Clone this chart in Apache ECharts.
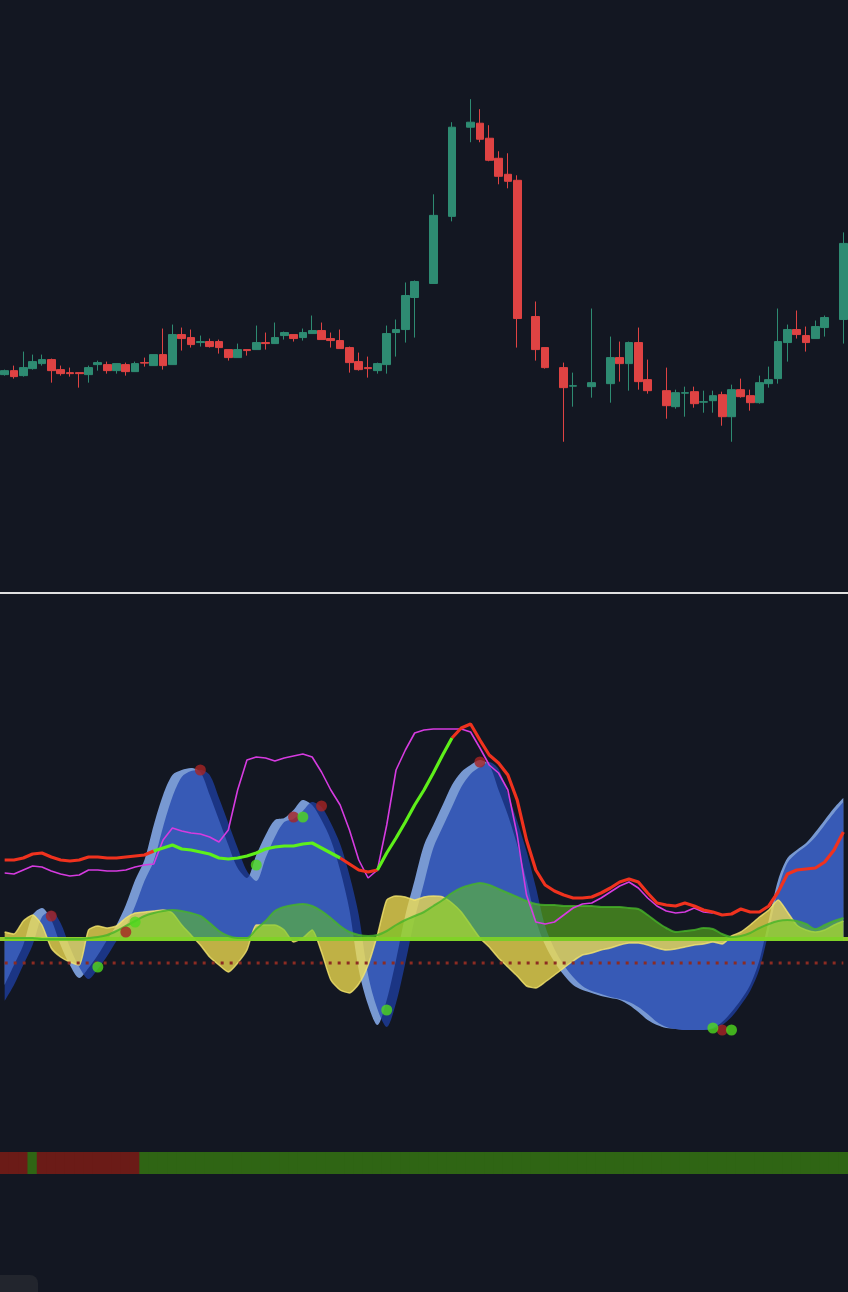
<!DOCTYPE html>
<html><head><meta charset="utf-8">
<script src="https://cdn.jsdelivr.net/npm/echarts@6/dist/echarts.min.js"></script>
<style>html,body{margin:0;padding:0;background:#131722}#c{width:848px;height:1292px}</style>
</head><body><div id="c"></div>
<script>
const N = 91;
const slots = Array.from({length:N},(_,i)=>String(i));
// candles per slot: [open, close, low, high], null = no candle
const opens  = [22.6,23.0,22.5,23.2,23.7,24.1,23.1,22.8,22.8,22.6,23.6,23.6,23.0,23.6,22.9,23.8,23.5,24.6,23.6,26.6,26.3,25.8,25.9,25.9,25.1,24.3,25.1,25.1,25.8,25.7,26.5,26.6,26.3,26.7,27.0,26.2,26.0,25.3,23.9,23.3,23.0,23.6,26.8,27.1,30.3,null,31.7,null,38.4,null,47.3,47.7,46.2,44.2,42.6,42.0,null,28.4,25.3,null,23.3,21.45,null,21.4,null,21.7,24.3,23.7,25.8,22.1,null,21.0,19.4,20.75,20.9,19.85,20.0,20.6,18.4,21.1,20.5,19.8,21.7,22.2,25.8,27.1,26.5,26.2,27.3,null,28.1];
const closes = [23.0,22.4,23.3,23.9,24.1,23.0,22.7,22.7,22.7,23.3,23.8,23.0,23.7,22.9,23.7,23.75,24.6,23.5,26.6,26.2,25.6,25.9,25.4,25.3,24.3,25.1,25.0,25.8,25.7,26.3,26.8,26.2,26.8,27.0,26.1,26.0,25.2,23.8,23.1,23.2,23.7,26.7,27.1,30.5,31.9,null,38.5,null,47.3,null,47.8,46.1,44.0,42.4,41.9,28.2,null,25.1,23.3,null,21.3,21.5,null,21.8,null,24.3,23.7,25.8,21.9,21.0,null,19.5,20.8,20.8,19.7,19.9,20.5,18.4,21.1,20.4,19.8,21.8,22.1,25.9,27.1,26.6,25.8,27.4,28.3,null,35.7];
const lows   = [22.5,22.2,22.4,23.1,23.5,21.8,22.5,22.4,21.3,21.8,23.0,22.7,22.7,22.5,22.9,23.4,23.5,23.1,23.6,25.0,25.3,25.4,25.3,24.7,24.0,24.3,24.5,25.1,25.1,25.7,26.1,25.9,26.0,26.7,26.1,25.3,25.2,22.8,23.0,22.3,22.7,22.7,24.4,25.8,26.3,null,31.7,null,37.9,null,45.8,45.8,43.9,41.6,41.2,25.3,null,24.0,23.2,null,15.9,19.4,null,20.3,null,19.8,21.9,21.0,21.1,20.7,null,18.2,19.2,18.4,19.3,18.8,18.8,17.5,15.9,20.3,19.0,19.7,21.3,21.7,23.9,26.2,24.9,26.2,26.4,null,25.7];
const highs  = [23.1,23.5,24.9,24.6,24.6,24.2,23.5,23.3,22.8,23.5,24.0,23.9,23.7,23.8,23.9,24.3,24.6,27.2,27.6,27.3,27.1,26.5,26.2,26.1,25.1,25.7,25.1,27.5,26.8,27.8,26.9,26.6,27.2,28.5,27.8,26.8,27.1,25.4,24.8,24.4,23.8,27.5,28.1,31.8,32.0,null,40.6,null,47.8,null,50.1,49.1,47.5,44.9,44.7,42.5,null,29.9,25.3,null,23.8,22.8,null,29.2,null,26.4,25.9,25.9,27.3,24.1,null,23.3,21.1,21.4,21.4,21.0,21.0,20.9,21.6,22.2,21.1,22.5,23.4,29.2,27.6,29.0,27.4,28.0,28.5,null,36.8];
// oscillator
const waveLead = [-44,-24,-4,26,33,21,-4,-24,-37,-27,-14,1,16,36,61,81,116,146,166,171,173,169,146,121,96,73,63,86,106,121,123,131,141,136,121,101,71,31,-29,-64,-84,-59,-19,26,61,96,116,136,156,169,176,181,176,151,126,96,61,21,-4,-21,-34,-44,-49,-52,-55,-57,-59,-64,-71,-79,-84,-87,-88,-89,-89,-89,-87,-81,-71,-59,-44,-19,21,61,83,91,98,109,121,133,143];
const waveLag  = [-60,-44,-24,-4,24,30,18,-6,-26,-38,-28,-15,0,15,35,60,80,114,144,164,170,171,166,143,118,93,70,60,83,104,119,122,130,139,134,118,97,66,26,-34,-68,-86,-62,-22,22,58,93,114,134,154,167,174,179,172,147,120,90,54,15,-8,-24,-36,-45,-50,-53,-56,-58,-61,-66,-73,-81,-86,-88,-89,-89,-89,-88,-84,-76,-64,-50,-28,10,52,78,88,95,104,116,128,139];
const yellow = [9,7,20,26,16,-7,-16,-21,-24,11,15,13,15,23,28,29,30,31,28,16,6,-4,-16,-24,-31,-22,-9,16,16,16,11,-1,3,11,-11,-39,-49,-52,-43,-24,6,41,45,44,41,44,45,44,38,29,16,3,-6,-17,-26,-35,-45,-47,-41,-34,-27,-20,-14,-12,-9,-7,-4,-2,-2,-4,-7,-9,-8,-6,-4,-3,-1,-3,5,9,16,24,31,41,29,16,11,9,11,16,20];
const green = [3,3,3,3,2,2,2,2,2,3,4,6,10,15,20,25,28,30,31,30,28,25,18,10,5,3,3,12,20,30,34,36,37,35,30,23,15,9,6,5,6,10,16,21,25,29,35,41,48,53,56,58,56,52,48,44,40,37,36,36,35,35,35,35,34,34,34,33,32,26,19,13,9,10,11,13,12,7,4,5,8,13,17,20,21,20,17,12,16,20,23];
const trend = [81,81,83,87,88,84,81,80,81,84,84,83,83,84,85,86,90,93,96,92,91,89,87,83,82,83,85,88,92,94,95,95,97,98,93,88,83,77,71,69,71,88,103,119,136,151,168,186,203,213,217,201,186,178,166,141,101,71,56,50,46,43,43,44,48,53,59,62,59,48,38,36,35,38,35,31,29,26,27,32,29,29,35,49,67,71,72,73,79,91,109];
const upRanges = [[16,36],[40,48]];
const magenta = [68,67,71,75,74,70,67,65,66,71,71,70,70,71,74,76,77,101,113,110,108,107,104,99,111,151,181,184,183,180,183,185,187,184,169,151,136,111,81,63,71,116,171,191,208,211,212,212,212,212,209,193,176,168,151,106,46,19,17,19,26,33,37,38,43,49,55,59,53,43,35,30,28,29,33,29,28];
const redDots = [[5,25],[13,9],[21,171],[31,124],[34,135],[51,179],[77,-89]];
const greenDots = [[10,-26],[14,19],[27,76],[32,124],[41,-69],[76,-87],[78,-89]];
const signalLevel = -22;
const statusRed = [[0,2],[4,14]];

const candleData = opens.map((o,i)=> o==null ? '-' : [o, closes[i], lows[i], highs[i]]);
const inUp = i => upRanges.some(([a,b])=>i>=a&&i<=b);
const inUpStrict = i => upRanges.some(([a,b])=>i>a&&i<b);
const trendRed = trend.map((v,i)=> inUpStrict(i)?null:v);
const trendGreen = trend.map((v,i)=> inUp(i)?v:null);
const statusData = slots.map((_,i)=>[i, statusRed.some(([a,b])=>i>=a&&i<=b)?1:0]);

const chart = echarts.init(document.getElementById('c'));
const xa = (gi, showLine) => ({type:'category',data:slots,gridIndex:gi,boundaryGap:true,
  axisLine:{show:showLine,lineStyle:{color:'#e0e0e0',width:2}},axisTick:{show:false},axisLabel:{show:false},splitLine:{show:false}});
const area = (c)=>({color:c,opacity:1,origin:0});
chart.setOption({
  backgroundColor:'#131722',
  animation:false,
  grid:[{left:0,right:0,top:0,height:593},{left:0,right:0,top:594,height:698},{left:0,right:0,top:1152,height:22}],
  xAxis:[xa(0,true),xa(1,false),xa(2,false)],
  yAxis:[
    {gridIndex:0,min:0.8,max:60,show:false},
    {gridIndex:1,min:-351,max:347,show:false},
    {gridIndex:2,min:0,max:1,show:false}],
  graphic:[{type:'rect',shape:{x:-10,y:1275,width:48,height:30,r:8},style:{fill:'#22252d'}}],
  series:[
    {type:'candlestick',xAxisIndex:0,yAxisIndex:0,data:candleData,barMaxWidth:10,barWidth:'88%',
      itemStyle:{color:'#2e8b72',color0:'#df4343',borderColor:'#2e8b72',borderColor0:'#df4343'}},
    {type:'line',xAxisIndex:1,yAxisIndex:1,data:waveLead,symbol:'none',smooth:0.3,lineStyle:{width:0},
      areaStyle:area('rgba(125,160,220,0.95)'),z:2},
    {type:'line',xAxisIndex:1,yAxisIndex:1,data:waveLag,symbol:'none',smooth:0.3,lineStyle:{width:0},
      areaStyle:area('rgba(30,65,170,0.72)'),z:3},
    {type:'line',xAxisIndex:1,yAxisIndex:1,data:yellow,symbol:'none',smooth:0.2,
      lineStyle:{width:1.5,color:'rgba(245,230,110,0.8)'},areaStyle:area('rgba(240,220,80,0.78)'),z:4},
    {type:'line',xAxisIndex:1,yAxisIndex:1,data:green,symbol:'none',smooth:0.3,
      lineStyle:{width:2,color:'rgba(70,180,40,0.8)'},areaStyle:area('rgba(100,200,30,0.55)'),z:5,
      markLine:{silent:true,symbol:'none',label:{show:false},data:[{yAxis:2}],lineStyle:{color:'#9ee02e',width:4,type:'solid',opacity:0.9}}},
    {type:'line',xAxisIndex:1,yAxisIndex:1,data:slots.map(()=>signalLevel),symbol:'none',
      lineStyle:{width:3,color:'#8c2b22',type:[3,6]},z:6},
    {type:'line',xAxisIndex:1,yAxisIndex:1,data:magenta,symbol:'none',lineStyle:{width:1.6,color:'#d63be0'},z:7},
    {type:'line',xAxisIndex:1,yAxisIndex:1,data:trendRed,symbol:'none',connectNulls:false,lineStyle:{width:3.2,color:'#f0321e'},z:8},
    {type:'line',xAxisIndex:1,yAxisIndex:1,data:trendGreen,symbol:'none',lineStyle:{width:3.2,color:'#5ef01a'},z:8},
    {type:'scatter',xAxisIndex:1,yAxisIndex:1,data:redDots,symbolSize:11,itemStyle:{color:'#a82424'},z:9},
    {type:'scatter',xAxisIndex:1,yAxisIndex:1,data:greenDots,symbolSize:11,itemStyle:{color:'#4fd81e'},z:9},
    {type:'custom',xAxisIndex:2,yAxisIndex:2,data:statusData,
      renderItem:(params,api)=>{const p0=api.coord([api.value(0),1]);const p1=api.coord([api.value(0),0]);const w=api.size([1,0])[0];
        return {type:'rect',shape:{x:p0[0]-w/2-0.5,y:p0[1],width:w+1,height:p1[1]-p0[1]},
          style:{fill:api.value(1)?'#6b1b17':'#2f6514'}};}}
  ]
});
</script></body></html>
